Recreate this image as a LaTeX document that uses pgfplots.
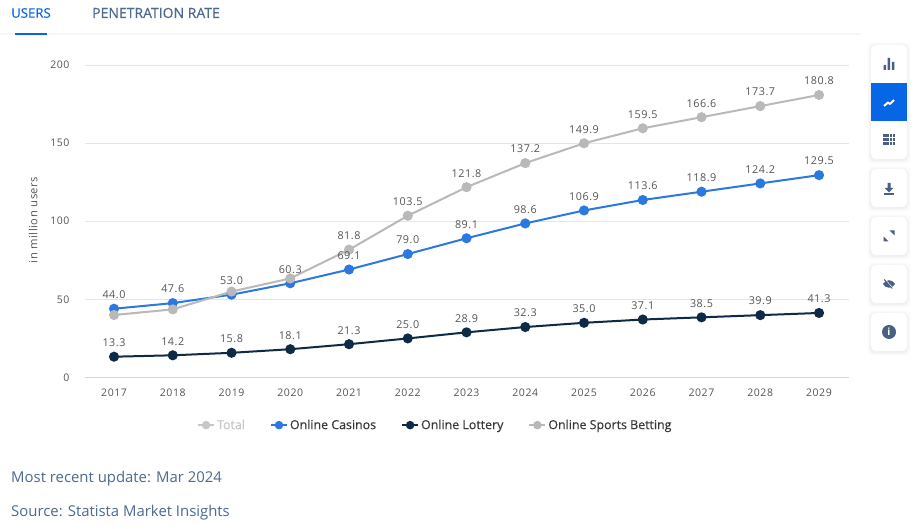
\documentclass[border=0pt]{standalone}
\usepackage{fontspec}
\setmainfont{Open Sans}
\newfontfamily\lsfont[LetterSpace=5]{Open Sans}
\newfontfamily\medfont[FakeBold=0.3]{Open Sans}
\usepackage{pgfplots}
\pgfplotsset{compat=1.18}
\definecolor{cblue}{HTML}{2A78E0}
\definecolor{cdark}{HTML}{0F2A46}
\definecolor{cgray}{HTML}{B9B9B9}
\definecolor{clabel}{HTML}{555555}
\definecolor{cslate}{HTML}{4E6A8F}
\definecolor{cact}{HTML}{0666E5}
\definecolor{cicon}{HTML}{4A6083}
\definecolor{caxis}{HTML}{CCD6EB}
\definecolor{ctab}{HTML}{F3F6FB}
\newcommand{\panel}[2]{%
  \foreach \s/\o in {4/0.008,3/0.012,2/0.016,1/0.02}{
    \fill[black,opacity=\o,rounded corners=5pt] (871-\s,#1-\s+1) rectangle (907+\s,#2+\s+1);}
  \fill[white,rounded corners=5pt] (871,#1) rectangle (907,#2);}
\begin{document}
\begin{tikzpicture}
\useasboundingbox (0,0) rectangle (914pt,529pt);
\fill[white] (0,0) rectangle (914pt,529pt);
\begin{axis}[
  at={(85pt,151.5pt)}, anchor=south west,
  scale only axis, width=764pt, height=312.5pt,
  xmin=2016.506, xmax=2029.51, ymin=0, ymax=200,
  xtick={2017,...,2029}, ytick={0,50,100,150,200},
  major tick length=0pt,
  axis line style={draw=none},
  axis x line*=bottom, axis y line*=left,
  ymajorgrids, grid style={draw=black!10, line width=0.8pt},
  x tick label style={font=\lsfont\fontsize{10.5}{12}\selectfont, text=clabel,
    /pgf/number format/1000 sep={}, /pgf/number format/assume math mode=true, yshift=-8pt},
  y tick label style={font=\lsfont\fontsize{10.5}{12}\selectfont, text=clabel,
    /pgf/number format/assume math mode=true, xshift=-12pt},
  ylabel={in million users},
  every axis y label/.style={at={(axis description cs:-0.068,0.504)},rotate=90,anchor=center,
    font=\lsfont\fontsize{11.2}{13}\selectfont, text=clabel},
  clip=false,
  every axis plot/.append style={line width=2pt, mark=*, mark size=4pt,
    mark options={solid,draw=none}},
  point meta=explicit symbolic,
  nodes near coords,
  every node near coord/.append style={font=\lsfont\fontsize{10.8}{12}\selectfont, text=clabel,
    anchor=center, yshift=14pt, inner sep=0pt},
  legend style={at={(0.4585,-0.1525)}, anchor=center, draw=none, fill=none,
    legend columns=4, font=\medfont\fontsize{12.4}{14}\selectfont, text=black!78,
    /tikz/every even column/.style={column sep=23pt}},
  legend cell align=left,
  legend image code/.code={\draw[mark repeat=2,mark phase=2,#1,line width=2pt,mark size=3.2pt]
    plot coordinates {(0pt,0pt)(8pt,0pt)(16pt,0pt)};},
]
\addlegendimage{color=black!22, mark=*, mark options={fill=black!22,solid,draw=none}}
\addlegendentry{\textcolor{black!22}{Total}}
\draw[draw=caxis,line width=0.8pt] (axis cs:2016.506,0) -- (axis cs:2029.51,0);
\addplot[color=cblue, mark options={fill=cblue}] coordinates {
 (2017,44.0)[] (2018,47.6)[] (2019,53.0)[] (2020,60.3)[] (2021,69.1)[]
 (2022,79.0)[] (2023,89.1)[] (2024,98.6)[] (2025,106.9)[] (2026,113.6)[]
 (2027,118.9)[] (2028,124.2)[] (2029,129.5)[]};
\addlegendentry{Online Casinos}
\addplot[color=cdark, mark options={fill=cdark}] coordinates {
 (2017,13.3)[13.3] (2018,14.2)[14.2] (2019,15.8)[15.8] (2020,18.1)[18.1] (2021,21.3)[21.3]
 (2022,25.0)[25.0] (2023,28.9)[28.9] (2024,32.3)[32.3] (2025,35.0)[35.0] (2026,37.1)[37.1]
 (2027,38.5)[38.5] (2028,39.9)[39.9] (2029,41.3)[41.3]};
\addlegendentry{Online Lottery}
\addplot[color=cgray, mark options={fill=cgray}] coordinates {
 (2017,40.0)[] (2018,43.6)[] (2019,55.0)[] (2020,63.4)[] (2021,81.8)[81.8]
 (2022,103.5)[103.5] (2023,121.8)[121.8] (2024,137.2)[137.2] (2025,149.9)[149.9] (2026,159.5)[159.5]
 (2027,166.6)[166.6] (2028,173.7)[173.7] (2029,180.8)[180.8]};
\addlegendentry{Online Sports Betting}
% the Online Casinos value labels, set last so that they lie over the grey line
\addplot[draw=none, mark=none, forget plot] coordinates {
 (2017,44.0)[44.0] (2018,47.6)[47.6] (2019,53.0)[53.0] (2020,60.3)[60.3] (2021,69.1)[69.1]
 (2022,79.0)[79.0] (2023,89.1)[89.1] (2024,98.6)[98.6] (2025,106.9)[106.9] (2026,113.6)[113.6]
 (2027,118.9)[118.9] (2028,124.2)[124.2] (2029,129.5)[129.5]};
\end{axis}
\begin{scope}[x=1pt,y=-1pt,yshift=529pt]
  % tabs
  \fill[ctab] (0,33) rectangle (861,35);
  \fill[cact] (15,33) rectangle (47,35);
  \node[anchor=west,inner sep=0pt,text=cact,font=\medfont\fontsize{13.2}{15}\selectfont] at (11,13) {USERS};
  \node[anchor=west,inner sep=0pt,text=cslate,font=\medfont\fontsize{14}{15}\selectfont] at (92,13) {PENETRATION RATE};
  % footer
  \node[anchor=west,inner sep=0pt,text=cslate,font=\fontsize{14.9}{17}\selectfont] at (11,479) {Most recent update: Mar 2024};
  \node[anchor=west,inner sep=0pt,text=cslate,font=\fontsize{14.9}{17}\selectfont] at (11,513) {Source: Statista Market Insights};
  % side panels
  \panel{45}{159}\panel{169}{207}\panel{217}{255}\panel{265}{303}\panel{313}{351}
  \fill[cact] (871,83) rectangle (907,121);
  % bar icon
  \fill[cicon] (883.5,65) rectangle (886,70) (887.7,58) rectangle (890.2,70) (891.9,62) rectangle (894.4,70);
  % line icon
  \draw[white,line width=2pt,line join=round] (884,106) -- (888,102.5) -- (890,104) -- (894,100);
  % table icon
  \foreach \yy in {135.5,139.5,143.5}{
    \fill[cicon] (883,\yy-1.4) rectangle (889,\yy+1.4);
    \fill[cicon] (890,\yy-1.4) rectangle (892,\yy+1.4);
    \fill[cicon] (893,\yy-1.4) rectangle (895,\yy+1.4);}
  % download
  \fill[cicon] (887.5,183) rectangle (890.5,188) (884.5,188) -- (893.5,188) -- (889,192.5) -- cycle;
  \fill[cicon] (884,193.5) rectangle (894,195.2);
  % expand
  \fill[cicon] (883.5,241.5) -- (883.5,236.5) -- (888.5,241.5) -- cycle;
  \fill[cicon] (894.5,230.5) -- (894.5,235.5) -- (889.5,230.5) -- cycle;
  % eye-off
  \fill[cicon] (883,284) .. controls (886,279) and (892,279) .. (895,284) .. controls (892,289) and (886,289) .. (883,284) -- cycle;
  \draw[white,line width=1pt] (885,279.5) -- (893,288.5);
  \draw[cicon,line width=1pt] (884.2,279.5) -- (892.2,288.5);
  % info
  \fill[cicon] (889,332) circle (7);
  \node[inner sep=0pt,text=white,font=\fontsize{10}{10}\bfseries\selectfont] at (889,332) {i};
\end{scope}
\end{tikzpicture}
\end{document}
